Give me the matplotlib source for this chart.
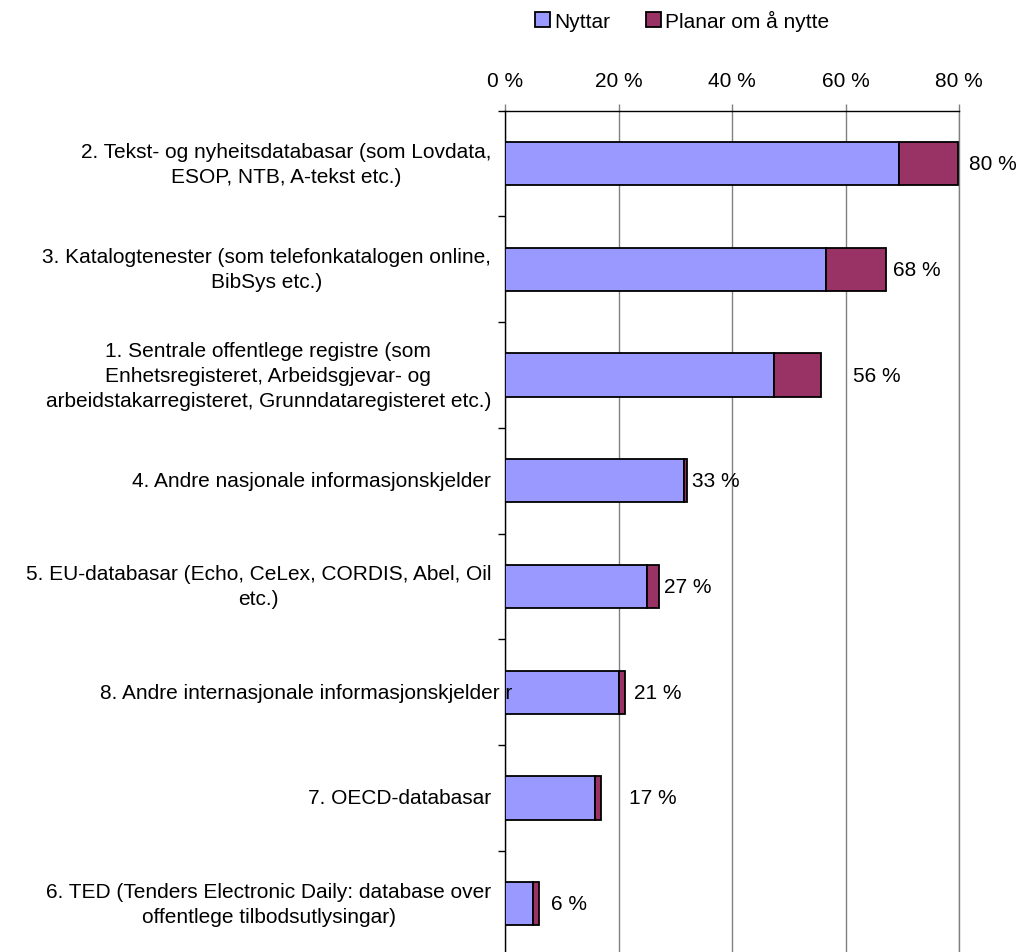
import matplotlib.pyplot as plt
import numpy as np

plt.rcParams['font.family'] = ['Liberation Sans', 'DejaVu Sans']

categories = [
    "2. Tekst- og nyheitsdatabasar (som Lovdata,\nESOP, NTB, A-tekst etc.)",
    "3. Katalogtenester (som telefonkatalogen online,\nBibSys etc.)",
    "1. Sentrale offentlege registre (som\nEnhetsregisteret, Arbeidsgjevar- og\narbeidstakarregisteret, Grunndataregisteret etc.)",
    "4. Andre nasjonale informasjonskjelder",
    "5. EU-databasar (Echo, CeLex, CORDIS, Abel, Oil\netc.)",
    "8. Andre internasjonale informasjonskjelder r",
    "7. OECD-databasar",
    "6. TED (Tenders Electronic Daily: database over\noffentlege tilbodsutlysingar)",
]
nyttar = [69.5, 56.5, 47.4, 31.5, 25.0, 20.1, 15.8, 4.9]
planar = [10.3, 10.6, 8.2, 0.5, 2.1, 1.0, 1.2, 1.1]
total_labels = ["80 %", "68 %", "56 %", "33 %", "27 %", "21 %", "17 %", "6 %"]
# where Excel put the data labels (left edge, in % units)
label_x = [81.8, 68.3, 61.3, 32.9, 28.0, 22.7, 21.8, 8.1]
xticks = [0, 20, 40, 60, 80]

c_nyttar = '#9999FF'
c_planar = '#993366'

fig = plt.figure(figsize=(10.2, 9.53), dpi=100)
ax = fig.add_axes([0.4951, -0.0047, 0.4451, 0.8874])

y = np.arange(len(categories))
ax.barh(y, nyttar, height=0.41, color=c_nyttar, edgecolor='black',
        linewidth=1.3, label='Nyttar', zorder=3)
ax.barh(y, planar, left=nyttar, height=0.41, color=c_planar, edgecolor='black',
        linewidth=1.3, label='Planar om å nytte', zorder=3)

for i, (lx, txt) in enumerate(zip(label_x, total_labels)):
    ax.text(lx, i, txt, ha='left', va='center', fontsize=15, zorder=4)

ax.set_xlim(0, 80)
ax.set_ylim(len(categories) - 0.5, -0.5)

ax.xaxis.tick_top()
ax.set_xticks(xticks)
ax.set_xticklabels([f"{t} %" for t in xticks], fontsize=15)
ax.tick_params(axis='x', direction='out', length=5, width=1, color='#808080', pad=10)
ax.grid(axis='x', color='#808080', linewidth=1, zorder=0)

ax.set_yticks([])
ax.set_yticks(np.arange(-0.5, len(categories) + 0.5, 1), minor=True)
ax.tick_params(axis='y', which='minor', direction='out', length=5, width=1, color='black')

for i, cat in enumerate(categories):
    dx = -10
    if cat.startswith("8."):
        dx = 5
    ax.annotate(cat, xy=(0, i), xycoords=('axes fraction', 'data'),
                xytext=(dx, 0), textcoords='offset points',
                ha='right', va='center', multialignment='center',
                linespacing=1.4, fontsize=15, zorder=5, annotation_clip=False)

ax.spines['bottom'].set_visible(False)
ax.spines['right'].set_color('#808080')
ax.spines['left'].set_color('black')
ax.spines['top'].set_color('black')
for s in ['left', 'top', 'right']:
    ax.spines[s].set_linewidth(1)

fig.legend(loc='center', bbox_to_anchor=(682 / 1020, 1 - 21 / 953), ncol=2,
           frameon=False, fontsize=15, handlelength=0.72, handleheight=0.77,
           handletextpad=0.2, columnspacing=1.7)

fig.savefig('out.png', dpi=100)
